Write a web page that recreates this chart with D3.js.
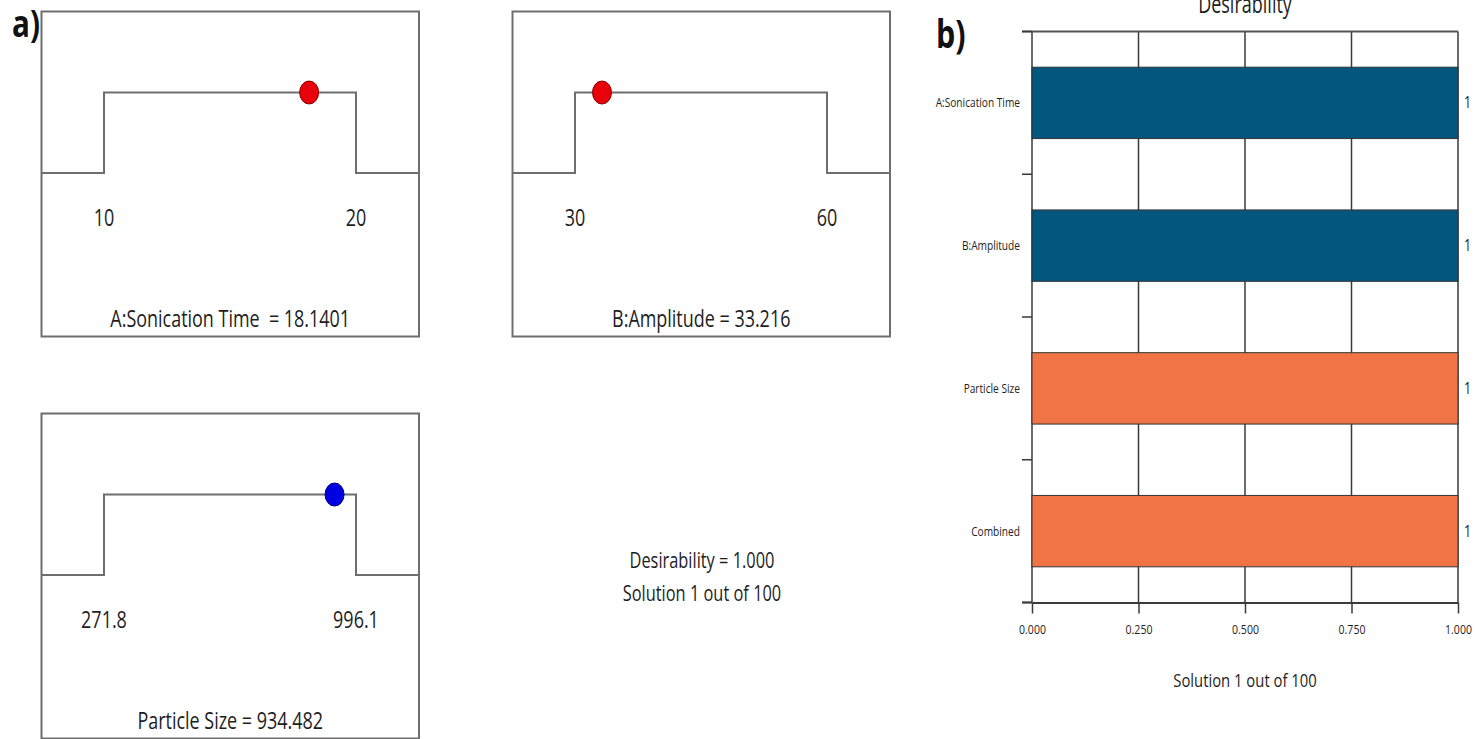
<!DOCTYPE html>
<html>
<head>
<meta charset="utf-8">
<script src="https://cdn.jsdelivr.net/npm/d3@7"></script>
<style>
    body { margin: 0; background: #fff; }
    text { font-family: "Open Sans", "Noto Sans", sans-serif; fill: #1e1e1e; }
</style>
</head>
<body>
<div id="chart-area"></div>
<script>
// a) factor ramps
let factorNames = ["A:Sonication Time", "B:Amplitude", "Particle Size"];
let lowLimits = [10, 30, 271.8];
let highLimits = [20, 60, 996.1];
let limitLabels = [["10", "20"], ["30", "60"], ["271.8", "996.1"]];
let optimumValues = [18.1401, 33.216, 934.482];
let panelTitles = ["A:Sonication Time  = 18.1401", "B:Amplitude = 33.216", "Particle Size = 934.482"];
let summaryLines = ["Desirability = 1.000", "Solution 1 out of 100"];

// b) desirability bars
let desirCategories = ["A:Sonication Time", "B:Amplitude", "Particle Size", "Combined"];
let desirValues = [1, 1, 1, 1];
let desirTicks = [0, 0.25, 0.5, 0.75, 1];

let squeeze = 0.78; // the original picture is narrowed horizontally

function squish(sel, k) {
    sel.each(function () {
        let len = this.getComputedTextLength();
        d3.select(this)
            .attr("textLength", len * k)
            .attr("lengthAdjust", "spacingAndGlyphs");
    });
}

let svg = d3.select("#chart-area")
    .append("svg")
    .attr("width", 1478)
    .attr("height", 739);

// panel letters
svg.append("text")
    .attr("x", 12).attr("y", 37)
    .style("font-size", "38px").style("font-weight", "bold").style("fill", "#111")
    .text("a)")
    .call(squish, squeeze);

svg.append("text")
    .attr("x", 936).attr("y", 48)
    .style("font-size", "39px").style("font-weight", "bold").style("fill", "#111")
    .text("b)")
    .call(squish, squeeze);

// ---- ramp panels ----
let panelPos = [{ x: 41.5, y: 11.5 }, { x: 512.5, y: 11.5 }, { x: 41.5, y: 413.5 }];
let boxW = 377.5, boxH = 325;
let highY = 81, lowY = 161.5;
let dotFill = ["#e8000b", "#e8000b", "#0000e0"];
let dotStroke = ["#8a0000", "#8a0000", "#00007a"];

factorNames.forEach((name, i) => {
    let g = svg.append("g")
        .attr("transform", "translate(" + panelPos[i].x + "," + panelPos[i].y + ")");

    let x = d3.scaleLinear()
        .domain([lowLimits[i], highLimits[i]])
        .range([62.5, 314.5]);

    g.append("rect")
        .attr("width", boxW).attr("height", boxH)
        .attr("fill", "none").attr("stroke", "#6e6e6e").attr("stroke-width", 2);

    let lo = x(lowLimits[i]), hi = x(highLimits[i]);
    let ramp = [[0, lowY], [lo, lowY], [lo, highY], [hi, highY], [hi, lowY], [boxW, lowY]];
    g.append("path")
        .attr("d", d3.line()(ramp))
        .attr("fill", "none").attr("stroke", "#6e6e6e").attr("stroke-width", 2);

    g.append("ellipse")
        .attr("cx", x(optimumValues[i]))
        .attr("cy", highY)
        .attr("rx", 9.5).attr("ry", 11.5)
        .attr("fill", dotFill[i]).attr("stroke", dotStroke[i]).attr("stroke-width", 1);

    g.selectAll(".limit")
        .data(limitLabels[i])
        .enter()
        .append("text")
        .attr("class", "limit")
        .attr("x", (d, j) => j === 0 ? lo : hi)
        .attr("y", 214)
        .attr("text-anchor", "middle")
        .style("font-size", "23px")
        .text(d => d)
        .call(squish, squeeze);

    g.append("text")
        .attr("x", boxW / 2)
        .attr("y", 315)
        .attr("text-anchor", "middle")
        .style("font-size", "23px")
        .style("white-space", "pre")
        .text(panelTitles[i])
        .call(squish, squeeze);
});

// summary text
svg.selectAll(".summary")
    .data(summaryLines)
    .enter()
    .append("text")
    .attr("class", "summary")
    .attr("x", 702)
    .attr("y", (d, i) => 568 + i * 33)
    .attr("text-anchor", "middle")
    .style("font-size", "21px")
    .text(d => d)
    .call(squish, squeeze);

// ---- desirability bar chart ----
let plot = { left: 1032, right: 1458, top: 31.5, bottom: 602.5 };

let bx = d3.scaleLinear()
    .domain([0, 1])
    .range([plot.left, plot.right]);

let by = d3.scaleBand()
    .domain(desirCategories)
    .range([plot.top, plot.bottom])
    .paddingInner(0.5)
    .paddingOuter(0.25);

// title sits partly above the page top, as in the original
svg.append("text")
    .attr("x", 1245).attr("y", 13)
    .attr("text-anchor", "middle")
    .style("font-size", "25px")
    .text("Desirability")
    .call(squish, 0.72);

// vertical grid
svg.append("g")
    .selectAll("line")
    .data(desirTicks)
    .enter()
    .append("line")
    .attr("x1", d => bx(d)).attr("x2", d => bx(d))
    .attr("y1", plot.top).attr("y2", plot.bottom)
    .attr("stroke", "#3a3a3a").attr("stroke-width", 1.5);

// top line
svg.append("line")
    .attr("x1", plot.left - 10).attr("x2", plot.right)
    .attr("y1", plot.top).attr("y2", plot.top)
    .attr("stroke", "#555").attr("stroke-width", 2);

// category boundary ticks
let bounds = desirCategories.map(c => by(c) - by.step() * 0.25).concat([plot.bottom]);
svg.append("g")
    .selectAll("line")
    .data(bounds)
    .enter()
    .append("line")
    .attr("x1", plot.left - 10).attr("x2", plot.left)
    .attr("y1", d => d).attr("y2", d => d)
    .attr("stroke", "#3a3a3a").attr("stroke-width", 1.5);

let barColors = ["#03577f", "#03577f", "#f07446", "#f07446"];

svg.append("g")
    .selectAll("rect")
    .data(desirValues)
    .enter()
    .append("rect")
    .attr("x", bx(0))
    .attr("y", (d, i) => by(desirCategories[i]))
    .attr("width", d => bx(d) - bx(0))
    .attr("height", by.bandwidth())
    .attr("fill", (d, i) => barColors[i])
    .attr("stroke", "#333").attr("stroke-width", 1);

svg.append("g")
    .selectAll("text")
    .data(desirValues)
    .enter()
    .append("text")
    .attr("x", d => bx(d) + 6)
    .attr("y", (d, i) => by(desirCategories[i]) + by.bandwidth() / 2)
    .attr("dy", "0.35em")
    .style("font-size", "16px")
    .text(d => d3.format("d")(d))
    .call(squish, squeeze);

svg.append("g")
    .selectAll("text")
    .data(desirCategories)
    .enter()
    .append("text")
    .attr("x", plot.left - 12)
    .attr("y", d => by(d) + by.bandwidth() / 2)
    .attr("dy", "0.35em")
    .attr("text-anchor", "end")
    .style("font-size", "13px")
    .text(d => d)
    .call(squish, squeeze);

// x axis
let xAxis = d3.axisBottom(bx)
    .tickValues(desirTicks)
    .tickFormat(d3.format(".3f"))
    .tickSize(11)
    .tickSizeOuter(0)
    .tickPadding(11);

let axisG = svg.append("g")
    .attr("transform", "translate(0," + plot.bottom + ")")
    .call(xAxis);

axisG.select(".domain").attr("stroke", "#3a3a3a").attr("stroke-width", 2);
axisG.selectAll(".tick line").attr("stroke", "#3a3a3a").attr("stroke-width", 1.5);
axisG.selectAll(".tick text")
    .style("font-family", "'Open Sans', sans-serif")
    .style("font-size", "13.5px")
    .attr("fill", "#222")
    .call(squish, squeeze);

// left stub of the axis line
svg.append("line")
    .attr("x1", plot.left - 10).attr("x2", plot.left)
    .attr("y1", plot.bottom).attr("y2", plot.bottom)
    .attr("stroke", "#3a3a3a").attr("stroke-width", 2);

svg.append("text")
    .attr("x", 1245).attr("y", 687)
    .attr("text-anchor", "middle")
    .style("font-size", "19px")
    .text("Solution 1 out of 100")
    .call(squish, squeeze);
</script>
</body>
</html>
